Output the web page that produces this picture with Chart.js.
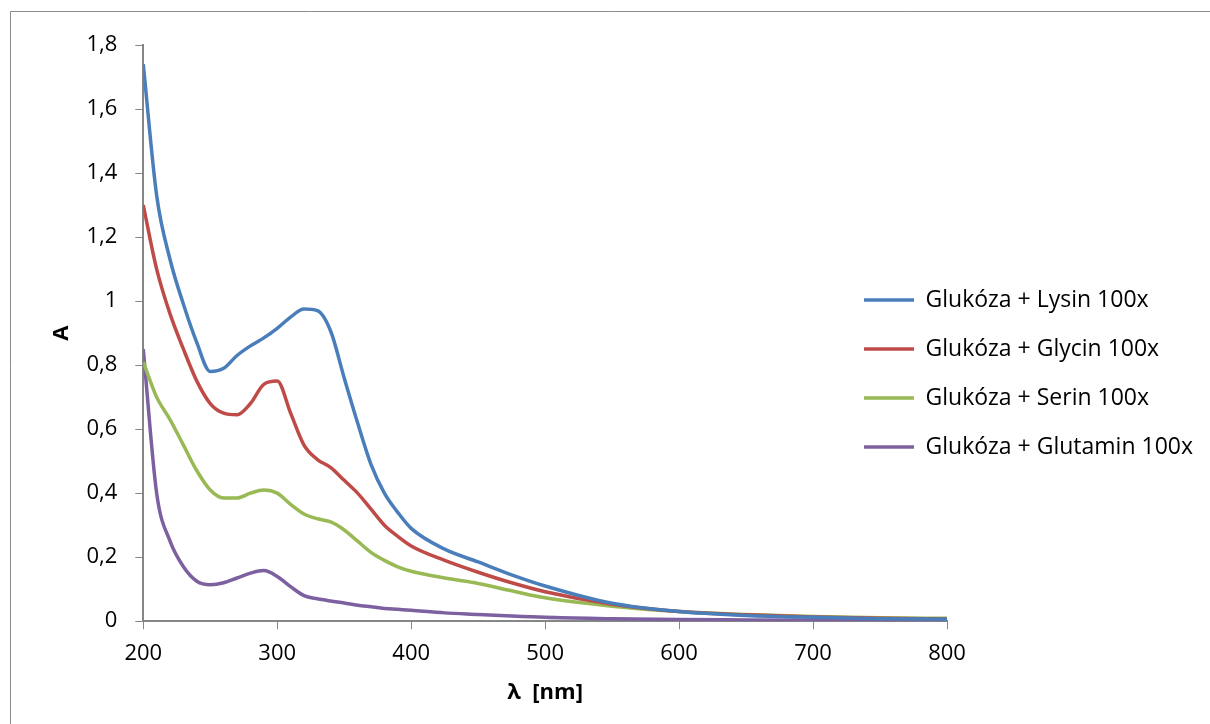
<!DOCTYPE html>
<html>
<head>
<meta charset="utf-8">
<script src="https://cdn.jsdelivr.net/npm/chart.js@4.4.1/dist/chart.umd.min.js"></script>
<style>
  html, body { margin: 0; padding: 0; background: #fff; }
  #wrap { width: 1210px; height: 724px; }
</style>
</head>
<body>
<div id="wrap"><canvas id="spectra"></canvas></div>
<script>
// wavelengths (nm)
const wavelengths = [200, 210, 220, 230, 240, 250, 260, 270, 280, 290, 300, 310, 320, 330, 340, 350,
                     360, 370, 380, 390, 400, 425, 450, 475, 500, 550, 600, 650, 700, 750, 800];

const lysin    = [1.74, 1.33, 1.13, 0.99, 0.87, 0.78, 0.79, 0.83, 0.86, 0.885, 0.915, 0.95, 0.975, 0.97, 0.905, 0.76,
                  0.62, 0.49, 0.40, 0.34, 0.29, 0.225, 0.185, 0.145, 0.11, 0.056, 0.03, 0.018, 0.012, 0.008, 0.006];
const glycin   = [1.30, 1.10, 0.96, 0.85, 0.75, 0.68, 0.65, 0.645, 0.68, 0.74, 0.75, 0.65, 0.55, 0.505, 0.48, 0.44,
                  0.40, 0.35, 0.30, 0.265, 0.235, 0.19, 0.153, 0.12, 0.092, 0.053, 0.03, 0.02, 0.013, 0.009, 0.007];
const serin    = [0.81, 0.70, 0.63, 0.55, 0.47, 0.41, 0.385, 0.385, 0.40, 0.41, 0.40, 0.365, 0.335, 0.32, 0.31, 0.285,
                  0.25, 0.215, 0.19, 0.17, 0.156, 0.135, 0.118, 0.095, 0.073, 0.047, 0.03, 0.021, 0.015, 0.011, 0.009];
const glutamin = [0.85, 0.40, 0.25, 0.17, 0.125, 0.114, 0.12, 0.135, 0.15, 0.158, 0.14, 0.108, 0.08, 0.07, 0.063, 0.057,
                  0.05, 0.045, 0.04, 0.037, 0.034, 0.026, 0.021, 0.016, 0.012, 0.008, 0.005, 0.004, 0.003, 0.002, 0.002];

const seriesNames = ['Glukóza + Lysin 100x', 'Glukóza + Glycin 100x', 'Glukóza + Serin 100x', 'Glukóza + Glutamin 100x'];
const seriesColors = ['#4a7ebb', '#be4b48', '#98b954', '#7d60a0'];

const FONT = '"Open Sans", Lato, sans-serif';

function pairs(ys) {
    return wavelengths.map((x, i) => ({ x: x, y: ys[i] }));
}

// thin grey frame like the Excel chart area
const frame = {
    id: 'frame',
    beforeDraw(chart) {
        const c = chart.ctx;
        c.save();
        c.strokeStyle = '#8c8c8c';
        c.lineWidth = 1;
        c.beginPath();
        c.moveTo(10.5, chart.height);
        c.lineTo(10.5, 11.5);
        c.lineTo(chart.width, 11.5);
        c.stroke();
        c.restore();
    }
};

// the legend sits over the right end of the plot, so it takes no room in the layout
const legendSpot = {
    id: 'legendSpot',
    beforeLayout(chart) {
        const lg = chart.legend;
        if (lg && !lg._zeroFit) {
            const fit = lg.fit;
            lg.fit = function () { fit.call(this); this.width = 0; };
            lg._zeroFit = true;
        }
    },
    afterLayout(chart) {
        const lg = chart.legend;
        lg.left = 864 - lg.options.labels.padding;
        lg.right = chart.width;
        lg.top = 0;
        lg.bottom = 747;
    }
};

const ctx = document.getElementById('spectra');
new Chart(ctx, {
    type: 'line',
    data: {
        datasets: [
            { label: seriesNames[0], data: pairs(lysin),    borderColor: seriesColors[0], backgroundColor: seriesColors[0] },
            { label: seriesNames[1], data: pairs(glycin),   borderColor: seriesColors[1], backgroundColor: seriesColors[1] },
            { label: seriesNames[2], data: pairs(serin),    borderColor: seriesColors[2], backgroundColor: seriesColors[2] },
            { label: seriesNames[3], data: pairs(glutamin), borderColor: seriesColors[3], backgroundColor: seriesColors[3] }
        ]
    },
    options: {
        responsive: true,
        maintainAspectRatio: false,
        animation: false,
        elements: {
            line: { borderWidth: 3.5, cubicInterpolationMode: 'monotone', fill: false },
            point: { radius: 0, borderWidth: 3.5 }
        },
        layout: { padding: { left: 49, right: 263, top: 45, bottom: 14 } },
        plugins: {
            legend: {
                position: 'right',
                labels: {
                    usePointStyle: true,
                    pointStyle: 'line',
                    pointStyleWidth: 50,
                    padding: 26,
                    color: '#000',
                    font: { family: FONT, size: 23 }
                }
            },
            tooltip: { enabled: false }
        },
        scales: {
            x: {
                type: 'linear',
                min: 200,
                max: 800,
                ticks: { stepSize: 100, padding: 11, color: '#000', font: { family: FONT, size: 22 } },
                grid: { drawOnChartArea: false, drawTicks: true, tickLength: 8, color: '#868686' },
                border: { color: '#868686', width: 2 },
                title: { display: true, text: 'λ  [nm]', color: '#000', font: { family: FONT, size: 22, weight: 'bold' }, padding: { top: 2, bottom: 4 } }
            },
            y: {
                min: 0,
                max: 1.8,
                ticks: {
                    stepSize: 0.2,
                    padding: 18,
                    color: '#000',
                    font: { family: FONT, size: 22 },
                    callback: v => String(Math.round(v * 10) / 10).replace('.', ',')
                },
                grid: { drawOnChartArea: false, drawTicks: true, tickLength: 8, color: '#868686' },
                border: { color: '#868686', width: 2 },
                title: { display: true, text: 'A', color: '#000', font: { family: FONT, size: 22, weight: 'bold' }, padding: { top: 0, bottom: -7 } }
            }
        }
    },
    plugins: [frame, legendSpot]
});
</script>
</body>
</html>
